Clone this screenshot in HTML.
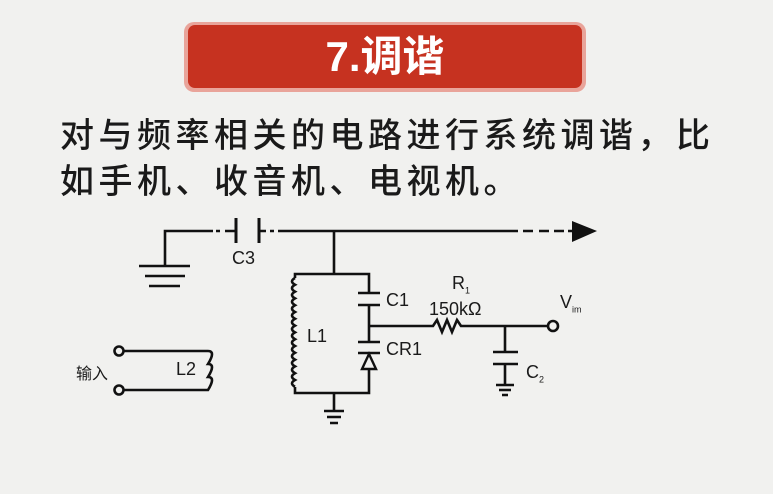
<!DOCTYPE html>
<html><head><meta charset="utf-8"><style>
html,body{margin:0;padding:0;background:#f1f1ef;width:773px;height:494px;overflow:hidden;}
.t{position:absolute;font-family:"Liberation Sans","Noto Sans CJK SC",sans-serif;color:#1a1a1a;}
</style></head><body>
<div style="position:absolute;left:184px;top:22px;width:402px;height:70px;border-radius:10px;background:#e9a49a;"></div>
<div style="position:absolute;left:188px;top:25px;width:394px;height:63px;border-radius:7px;background:#c63220;"></div>
<div class="t" style="left:188px;top:25px;width:394px;height:63px;line-height:63px;text-align:center;color:#fff;font-size:42px;font-weight:bold;">7.调谐</div>
<div class="t" style="left:60px;top:113px;font-size:34px;font-weight:500;letter-spacing:4.5px;white-space:nowrap;line-height:46px;">对与频率相关的电路进行系统调谐，比<br>如手机、收音机、电视机。</div>
<svg width="773" height="494" style="position:absolute;left:0;top:0" fill="none" stroke="#111" stroke-width="2.6">
<path d="M165 266V231H213"/>
<path d="M216 231H220M225 231H229M229 231H236M259 231H266M270 231H274M278 231H518M523 231H533M539 231H549M554 231H564M568 231H573"/>
<path d="M236 218V243M259 218V243" stroke-width="3"/>
<polygon points="572,221 597,231 572,242" fill="#111" stroke="none"/>
<path d="M139 266H190M145 276H185M149 286H180"/>
<path d="M334 231V274M295 278V274H369V293M358 293H380M358 305H380M369 305V342M358 342H380M358 353H380M369 369V393H295V387"/>
<polygon points="369,354 362,369 376,369" stroke-width="2.4"/>
<path d="M295 278 q-6 3.4 0 6.8 q-6 3.4 0 6.8 q-6 3.4 0 6.8 q-6 3.4 0 6.8 q-6 3.4 0 6.8 q-6 3.4 0 6.8 q-6 3.4 0 6.8 q-6 3.4 0 6.8 q-6 3.4 0 6.8 q-6 3.4 0 6.8 q-6 3.4 0 6.8 q-6 3.4 0 6.8 q-6 3.4 0 6.8 q-6 3.4 0 6.8 q-6 3.4 0 6.8 q-6 3.4 0 6.8"/>
<path d="M334 393V411M324 411H344M327 417H341M330 423H338"/>
<path d="M369 326H433l4 -6 5 12 5 -12 5 12 5 -12 4 6H548"/>
<circle cx="553" cy="326" r="5"/>
<path d="M505 326V352M493 352H518M493 364H518M505 364V385M496 385H514M499 390H511M502 395H508"/>
<circle cx="119" cy="351" r="4.5"/><circle cx="119" cy="390" r="4.5"/>
<path d="M124 351H208q8 0 0 13q8 0 0 13q8 0 0 13H124"/>
</svg>
<div class="t" style="left:232px;top:248px;font-size:18px;">C3</div>
<div class="t" style="left:307px;top:326px;font-size:18px;">L1</div>
<div class="t" style="left:386px;top:290px;font-size:18px;">C1</div>
<div class="t" style="left:386px;top:339px;font-size:18px;">CR1</div>
<div class="t" style="left:452px;top:273px;font-size:18px;">R<sub style="font-size:9px">1</sub></div>
<div class="t" style="left:429px;top:299px;font-size:18px;">150kΩ</div>
<div class="t" style="left:560px;top:292px;font-size:18px;">V<sub style="font-size:9px">im</sub></div>
<div class="t" style="left:526px;top:362px;font-size:18px;">C<sub style="font-size:9px">2</sub></div>
<div class="t" style="left:176px;top:359px;font-size:18px;">L2</div>
<div class="t" style="left:76px;top:360px;font-size:16px;">输入</div>
</body></html>
